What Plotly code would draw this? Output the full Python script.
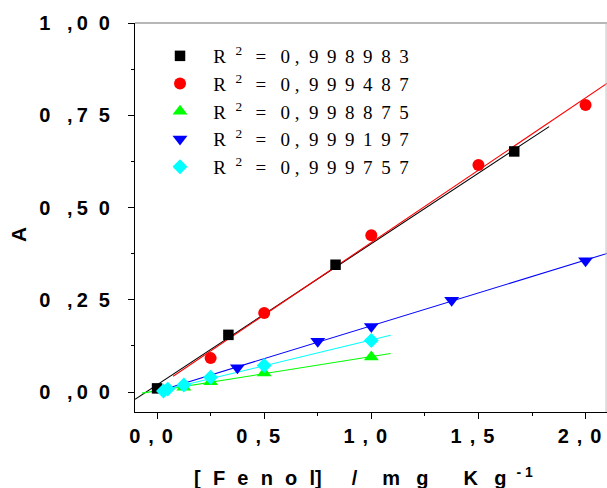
import numpy as np
import plotly.graph_objects as go

# ---- data ----
black_x = [0.0, 0.333, 0.833, 1.667]
black_y = [0.010, 0.155, 0.345, 0.652]
red_x = [0.25, 0.5, 1.0, 1.5, 2.0]
red_y = [0.092, 0.214, 0.425, 0.615, 0.778]
green_x = [0.125, 0.25, 0.5, 1.0]
green_y = [0.013, 0.028, 0.052, 0.095]
blue_x = [0.375, 0.75, 1.0, 1.375, 2.0]
blue_y = [0.066, 0.138, 0.178, 0.249, 0.356]
cyan_x = [0.03, 0.05, 0.125, 0.25, 0.5, 1.0]
cyan_y = [0.003, 0.008, 0.019, 0.040, 0.072, 0.140]
r2_values = ["0,998983", "0,999487", "0,998875", "0,999197", "0,999757"]
fit_x_extent = [(-0.103, 1.83), (0.075, 2.12), (-0.07, 1.09), (0.02, 2.12), (0.0, 1.09)]
y_tick_vals = [0.0, 0.25, 0.5, 0.75, 1.0]
x_tick_vals = [0.0, 0.5, 1.0, 1.5, 2.0]

NB = "\u00a0"
TH = "\u2009"
EN = "\u2002"
S3 = "\u2004"  # three-per-em space
S4 = "\u2005"  # four-per-em space

series = [
    (black_x, black_y, "black", "square", 10.5),
    (red_x, red_y, "#ff0000", "circle", 12),
    (green_x, green_y, "#00ff00", "triangle-up", 13),
    (blue_x, blue_y, "#0000ff", "triangle-down", 13),
    (cyan_x, cyan_y, "#00ffff", "diamond", 11.5),
]

def legend_text(v):
    d0, rest = v.split(",")
    digits = (NB + TH).join(list(rest))
    return (NB * 2 + TH + "R" + NB * 2 + "<sup>2</sup>" + NB * 2 + TH + "=" + NB * 3
            + d0 + NB + "," + NB * 2 + digits)

def ytick(v):
    s = f"{v:.2f}"
    return s[0] + NB * 3 + "," + TH + s[2] + NB * 2 + s[3]

def xtick(v):
    s = f"{v:.1f}"
    return s[0] + TH * 2 + "," + TH * 2 + s[2]

fig = go.Figure()

# regression lines
for (xs, ys, col, sym, sz), (x0, x1) in zip(series, fit_x_extent):
    k, b = np.polyfit(xs, ys, 1)
    lx = np.array([x0, x1])
    fig.add_trace(go.Scatter(x=lx, y=k * lx + b, mode="lines",
                             line=dict(color=col, width=1.1), showlegend=False,
                             hoverinfo="skip"))

# markers
for (xs, ys, col, sym, sz), r2 in zip(series, r2_values):
    fig.add_trace(go.Scatter(x=xs, y=ys, mode="markers", name=legend_text(r2),
                             marker=dict(color=col, symbol=sym, size=sz,
                                         line=dict(width=0))))

G = NB + S3
xtitle = (G.join(list("[Fenol")) + "]" + EN * 3 + "/" + EN * 2 + S4 + "m" + G + TH + "g"
          + EN * 3 + S4 + "K" + G + TH + "g" + EN + "<sup>-" + NB + "1</sup>")

axis_font = dict(family="Liberation Sans, Arial", size=20, color="black", weight="bold")

fig.update_layout(
    width=607, height=488,
    margin=dict(l=135, r=0, t=23, b=76),
    plot_bgcolor="white", paper_bgcolor="white",
    xaxis=dict(range=[-0.103, 2.1], showgrid=False, zeroline=False,
               showline=True, linecolor="black", linewidth=1,
               ticks="outside", ticklen=6, tickcolor="black",
               tickvals=x_tick_vals, ticktext=[xtick(v) for v in x_tick_vals],
               tickfont=axis_font, ticklabeloverflow="allow", ticklabelshift=-6,
               minor=dict(dtick=0.25, tick0=0, ticks="outside", ticklen=3, tickcolor="black")),
    yaxis=dict(range=[-0.054, 1.0], showgrid=False, zeroline=False,
               showline=True, linecolor="black", linewidth=1,
               ticks="outside", ticklen=6, tickcolor="black",
               tickvals=y_tick_vals, ticktext=[ytick(v) for v in y_tick_vals],
               tickfont=axis_font, ticklabelstandoff=14, ticklabeloverflow="allow",
               minor=dict(dtick=0.125, tick0=0, ticks="outside", ticklen=3, tickcolor="black")),
    legend=dict(x=0.053, y=0.964, xanchor="left", yanchor="top",
                bgcolor="rgba(0,0,0,0)", borderwidth=0,
                font=dict(family="Liberation Serif, Times New Roman", size=19, color="black")),
    showlegend=True,
)

fig.add_annotation(text=xtitle, xref="paper", yref="paper", x=0.1208, y=-0.165,
                   xanchor="left", yanchor="middle", showarrow=False,
                   font=dict(family="Liberation Sans, Arial", size=20, color="black", weight="bold"))
fig.add_annotation(text="A", xref="paper", yref="paper", x=-0.2458, y=0.4576,
                   xanchor="center", yanchor="middle", showarrow=False, textangle=-90,
                   font=dict(family="Liberation Sans, Arial", size=21, color="black", weight="bold"))

# frame: grey top and right borders
fig.add_shape(type="line", xref="paper", yref="paper", x0=0, x1=1, y0=1, y1=1,
              line=dict(color="#707070", width=1.2))
fig.add_shape(type="line", xref="paper", yref="paper", x0=0.998, x1=0.998, y0=0, y1=1,
              line=dict(color="#c0c0c0", width=1))

fig.write_html("out.html",
               post_script="document.body.style.margin='0';document.body.style.overflow='hidden';document.documentElement.style.overflow='hidden';",
               config={"displayModeBar": False})
